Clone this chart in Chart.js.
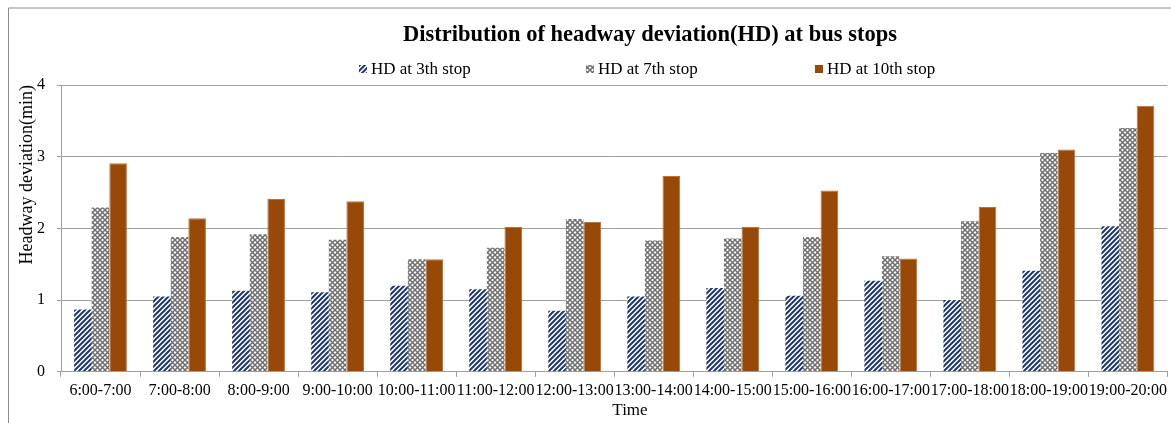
<!DOCTYPE html>
<html>
<head>
<meta charset="utf-8">
<script src="https://cdn.jsdelivr.net/npm/chart.js@4"></script>
<style>
  html, body { margin: 0; padding: 0; background: #fff; }
  #wrap { width: 1171px; height: 423px; }
</style>
</head>
<body>
<div id="wrap"><canvas id="myChart" width="1171" height="423"></canvas></div>
<script>
const chartTitle = 'Distribution of headway deviation(HD) at bus stops';
const xTitle = 'Time';
const yTitle = 'Headway deviation(min)';
const timeSlots = ['6:00-7:00', '7:00-8:00', '8:00-9:00', '9:00-10:00', '10:00-11:00', '11:00-12:00', '12:00-13:00',
  '13:00-14:00', '14:00-15:00', '15:00-16:00', '16:00-17:00', '17:00-18:00', '18:00-19:00', '19:00-20:00'];
const seriesNames = ['HD at 3th stop', 'HD at 7th stop', 'HD at 10th stop'];
const hdStop3 = [0.87, 1.05, 1.13, 1.11, 1.20, 1.15, 0.85, 1.05, 1.17, 1.06, 1.27, 1.00, 1.41, 2.03];
const hdStop7 = [2.29, 1.88, 1.92, 1.84, 1.57, 1.73, 2.13, 1.83, 1.86, 1.88, 1.61, 2.10, 3.05, 3.40];
const hdStop10 = [2.91, 2.14, 2.41, 2.38, 1.57, 2.02, 2.09, 2.73, 2.02, 2.53, 1.58, 2.30, 3.10, 3.71];
const yTicks = [0, 1, 2, 3, 4];

const serif = '"Liberation Serif", "Times New Roman", serif';
Chart.defaults.font.family = serif;
Chart.defaults.color = '#000';

// small repeating tiles like the excel fill patterns
function makePattern(size, draw) {
  const c = document.createElement('canvas');
  c.width = size;
  c.height = size;
  const g = c.getContext('2d');
  g.fillStyle = '#fff';
  g.fillRect(0, 0, size, size);
  draw(g, size);
  return g.createPattern(c, 'repeat');
}

const stripes = makePattern(5, (g, s) => {
  g.strokeStyle = '#1f3864';
  g.lineWidth = 2;
  g.beginPath();
  g.moveTo(-1, s + 1); g.lineTo(s + 1, -1);
  g.moveTo(-1, 1); g.lineTo(1, -1);
  g.moveTo(s - 1, s + 1); g.lineTo(s + 1, s - 1);
  g.stroke();
});

const crossHatch = makePattern(5, (g, s) => {
  g.strokeStyle = '#6e6e6e';
  g.lineWidth = 1.5;
  g.beginPath();
  g.moveTo(0, 0); g.lineTo(s, s);
  g.moveTo(0, s); g.lineTo(s, 0);
  g.stroke();
});

const brown = '#984807';

// frame, title, legend and x title drawn where excel puts them
const headerPlugin = {
  id: 'header',
  afterDraw(chart, args, opts) {
    const ctx = chart.ctx;
    ctx.save();
    ctx.strokeStyle = '#8c8c8c';
    ctx.lineWidth = 1;
    ctx.beginPath();
    ctx.moveTo(8.5, chart.height + 2);
    ctx.lineTo(8.5, 8);
    ctx.lineTo(chart.width + 2, 8);
    ctx.stroke();

    ctx.fillStyle = '#000';
    ctx.font = 'bold 22.5px ' + serif;
    ctx.textAlign = 'center';
    ctx.textBaseline = 'middle';
    ctx.fillText(chartTitle, opts.titleX, opts.titleY);

    ctx.font = '17px ' + serif;
    ctx.fillText(xTitle, opts.xTitleX, opts.xTitleY);

    ctx.textAlign = 'left';
    chart.data.datasets.forEach((ds, i) => {
      const x = opts.legendX[i];
      const y = opts.legendY;
      ctx.fillStyle = ds.backgroundColor;
      ctx.fillRect(x, y - 4, 8, 8);
      ctx.fillStyle = '#000';
      ctx.fillText(ds.label, x + 12, y + 1);
    });
    ctx.restore();
  }
};

const ctx = document.getElementById('myChart').getContext('2d');
new Chart(ctx, {
  type: 'bar',
  data: {
    labels: timeSlots,
    datasets: [
      { label: seriesNames[0], data: hdStop3, backgroundColor: stripes },
      { label: seriesNames[1], data: hdStop7, backgroundColor: crossHatch },
      { label: seriesNames[2], data: hdStop10, backgroundColor: brown, borderColor: '#b5733d', borderWidth: 1 },
    ],
  },
  plugins: [headerPlugin],
  options: {
    responsive: false,
    animation: false,
    layout: { padding: { top: 85, left: 8, right: 0, bottom: 19 } },
    datasets: { bar: { barPercentage: 1, categoryPercentage: 0.668 } },
    plugins: {
      legend: { display: false },
      title: { display: false },
      tooltip: { enabled: false },
      header: { titleX: 650, titleY: 35, legendX: [359, 586, 815], legendY: 69, xTitleX: 630, xTitleY: 411 },
    },
    scales: {
      x: {
        grid: { drawOnChartArea: false, drawTicks: true, tickLength: 5, color: '#a0a0a0' },
        border: { color: '#a0a0a0' },
        ticks: { font: { size: 16 }, maxRotation: 0, autoSkip: false, padding: 4 },
      },
      y: {
        min: 0,
        max: 4,
        afterBuildTicks: (axis) => { axis.ticks = yTicks.map(v => ({ value: v })); },
        afterFit: (axis) => { axis.width = 53; },
        grid: { color: '#a0a0a0', tickLength: 4 },
        border: { color: '#a0a0a0' },
        ticks: { font: { size: 16 }, padding: 12 },
        title: { display: true, text: yTitle, align: 'end', font: { size: 18 }, padding: { top: 8, bottom: 0 } },
      },
    },
  },
});
</script>
</body>
</html>
